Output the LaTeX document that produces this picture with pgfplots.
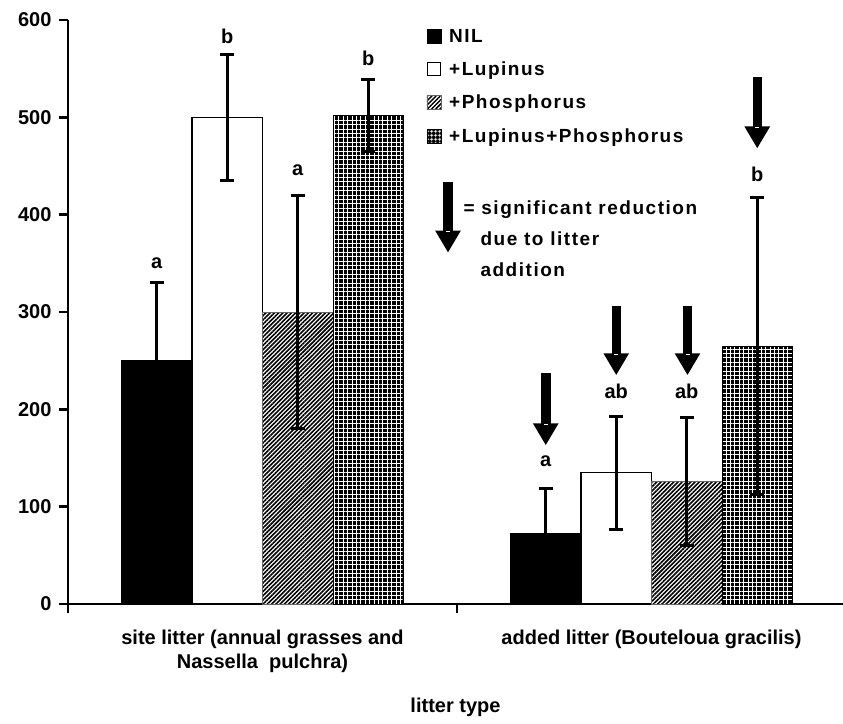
\documentclass[border=0pt]{standalone}
\usepackage{pgfplots}
\pgfplotsset{compat=1.18}
\usepackage{pgfplotstable}
\usepackage{fontspec}
\setmainfont{Liberation Sans}
\newfontfamily\spacedfont{Liberation Sans}[LetterSpace=8]
\usetikzlibrary{patterns.meta, arrows.meta}

\newcommand\lbl{\fontsize{20}{24}\selectfont\bfseries}
\newcommand\leg{\spacedfont\fontsize{19}{19}\selectfont\bfseries}

% group position (0.5 = site litter, 1.5 = added litter), mean, error
\pgfplotstableread{
x   y    e
0.5 250  80
1.5 72   47
}\nil
\pgfplotstableread{
x   y    e
0.5 500  65
1.5 135  58
}\lup
\pgfplotstableread{
x   y    e
0.5 300  120
1.5 126  66
}\phos
\pgfplotstableread{
x   y    e
0.5 502  37
1.5 265  153
}\lupphos

% downward arrow marking a significant reduction
\newcommand\dropmark[4]{%
  \draw[line width=9.5pt, -{Triangle[width=24pt,length=22pt]}]
    ([xshift=#2]axis cs:#1,#3) -- ([xshift=#2]axis cs:#1,#4);
  \draw[white, line width=1.5pt]
    ([xshift=#2-2pt, yshift=21pt]axis cs:#1,#4) -- ++(4pt,0pt);
}

\begin{document}
\begin{tikzpicture}
\useasboundingbox (-68pt,-119pt) rectangle (775pt,604pt);
\begin{axis}[
  at={(0,0)}, anchor=south west,
  scale only axis, width=775pt, height=584pt,
  xmin=0, xmax=1.9923, ymin=0, ymax=600,
  clip=false,
  axis x line*=bottom, axis y line*=left,
  axis line style={line width=2.8pt, -},
  tick style={line width=2.4pt, black},
  tick align=outside, major tick length=9pt,
  ytick={0,100,...,600},
  xtick={0.5,1.5},
  xtick style={draw=none},
  xticklabels={{site litter (annual grasses and\\Nassella\ \ pulchra)},
               {added litter (Bouteloua gracilis)}},
  extra x ticks={0,1},
  extra x tick labels={},
  extra x tick style={xtick style={draw=black, line width=2.4pt}},
  ticklabel style={font=\lbl},
  /pgf/number format/assume math mode=true,
  yticklabel style={xshift=-4pt},
  xticklabel style={align=center, anchor=north, yshift=-13pt},
  xlabel={litter type},
  xlabel style={font=\lbl, at={(axis description cs:0.5,0)}, anchor=base, yshift=-108pt},
  ybar, bar width=70.5pt,
  legend style={at={(axis cs:0.9203,590.8)}, anchor=north west, draw=none, fill=none,
    inner sep=0pt, row sep=18.5pt, font=\leg,
    nodes={inner sep=0pt, text height=13pt, text depth=0pt},
    cells={anchor=west}},
  error bars/error bar style={line width=3pt, black},
  error bars/error mark options={line width=3pt, black, mark size=7pt, rotate=90},
]
\addplot[fill=black, draw=black, line width=1pt, forget plot, bar shift=-105.75pt,
  error bars/.cd, y dir=both, y explicit]
  table[x=x, y=y, y error=e] {\nil};
\addplot[fill=white, draw=black, line width=1.3pt, forget plot, bar shift=-35.25pt,
  error bars/.cd, y dir=both, y explicit]
  table[x=x, y=y, y error=e] {\lup};
\addplot[fill=white, draw=black!60, line width=0.8pt, forget plot, bar shift=35.25pt,
  postaction={pattern={Lines[angle=45,distance=3pt,line width=1.6pt]}, pattern color=black},
  error bars/.cd, y dir=both, y explicit]
  table[x=x, y=y, y error=e] {\phos};
\addplot[fill=black, draw=black, line width=0.8pt, forget plot, bar shift=105.75pt,
  postaction={pattern={Hatch[angle=0,distance=4.4pt,line width=0.9pt]}, pattern color=white},
  error bars/.cd, y dir=both, y explicit]
  table[x=x, y=y, y error=e] {\lupphos};

\addlegendimage{legend image code/.code={\fill[black] (0pt,-7pt) rectangle (14pt,7pt); \path (22pt,0pt);}}
\addlegendentry{NIL}
\addlegendimage{legend image code/.code={\draw[black, line width=1pt, fill=white] (0.5pt,-6.5pt) rectangle (13.5pt,6.5pt); \path (22pt,0pt);}}
\addlegendentry{+Lupinus}
\addlegendimage{legend image code/.code={\draw[black!60, line width=0.5pt, fill=white, postaction={pattern={Lines[angle=45,distance=3pt,line width=1.5pt]}, pattern color=black}] (0pt,-7pt) rectangle (14pt,7pt); \path (22pt,0pt);}}
\addlegendentry{+Phosphorus}
\addlegendimage{legend image code/.code={\fill[black, postaction={pattern={Hatch[angle=0,distance=4pt,line width=0.9pt]}, pattern color=white}] (0pt,-7pt) rectangle (14pt,7pt); \path (22pt,0pt);}}
\addlegendentry{+Lupinus+Phosphorus}

% significance letters
\node[font=\lbl, anchor=base] at ([xshift=-105.75pt]axis cs:0.5,345) {a};
\node[font=\lbl, anchor=base] at ([xshift=-35.25pt]axis cs:0.5,576) {b};
\node[font=\lbl, anchor=base] at ([xshift=35.25pt]axis cs:0.5,440) {a};
\node[font=\lbl, anchor=base] at ([xshift=105.75pt]axis cs:0.5,553) {b};
\node[font=\lbl, anchor=base] at ([xshift=-105.75pt]axis cs:1.5,141) {a};
\node[font=\lbl, anchor=base] at ([xshift=-35.25pt]axis cs:1.5,211) {ab};
\node[font=\lbl, anchor=base] at ([xshift=35.25pt]axis cs:1.5,211) {ab};
\node[font=\lbl, anchor=base] at ([xshift=105.75pt]axis cs:1.5,434) {b};

% reductions caused by adding litter
\dropmark{1.5}{-105.75pt}{237}{163}
\dropmark{1.5}{-35.25pt}{306}{235}
\dropmark{1.5}{36pt}{306}{235}
\dropmark{1.5}{105.75pt}{541}{468}

% key for the arrows
\dropmark{0.9769}{0pt}{434}{361}
\node[font=\leg, anchor=base west] at (axis cs:1.0077,400) {= significant reduction};
\node[font=\leg, anchor=base west] at (axis cs:1.0514,368) {due to litter};
\node[font=\leg, anchor=base west] at (axis cs:1.0514,336) {addition};
\end{axis}
\end{tikzpicture}
\end{document}
